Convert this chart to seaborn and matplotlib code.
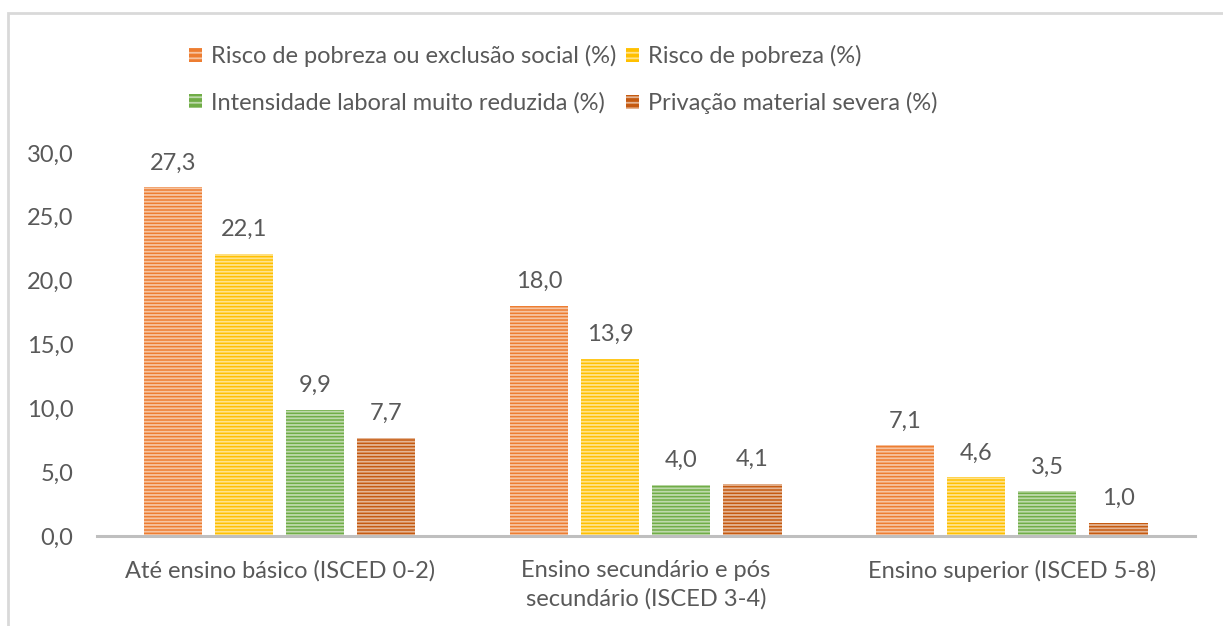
import pandas as pd
import matplotlib.pyplot as plt
import seaborn as sns
from matplotlib.patches import Rectangle, Patch

# Data
categories = ["Até ensino básico (ISCED 0-2)",
              "Ensino secundário e pós\nsecundário (ISCED 3-4)",
              "Ensino superior (ISCED 5-8)"]
series = ["Risco de pobreza ou exclusão social (%)",
          "Risco de pobreza (%)",
          "Intensidade laboral muito reduzida (%)",
          "Privação material severa (%)"]
risco_exclusao = [27.3, 18.0, 7.1]
risco_pobreza = [22.1, 13.9, 4.6]
intensidade = [9.9, 4.0, 3.5]
privacao = [7.7, 4.1, 1.0]
colors = ["#ED7D31", "#FFC000", "#70AD47", "#C55A11"]

df = pd.DataFrame({
    "cat": categories * 4,
    "serie": [s for s in series for _ in categories],
    "val": risco_exclusao + risco_pobreza + intensidade + privacao,
})

sns.set_theme(style="white")
plt.rcParams["font.family"] = ["Lato", "DejaVu Sans"]
plt.rcParams["hatch.linewidth"] = 1.3
text_col = "#595959"
fs = 17
stripe = (1, 1, 1, 0.55)

fig = plt.figure(figsize=(12.23, 6.26), dpi=100)
ax = fig.add_axes([0.0793, 0.1438, 0.8978, 0.6118])

sns.barplot(data=df, x="cat", y="val", hue="serie", palette=colors,
            width=0.776, gap=0.183, legend=False, ax=ax, saturation=1)

for p in ax.patches:
    p.set_hatch("-----")
    p.set_edgecolor(stripe)
    p.set_linewidth(0)

for cont in ax.containers:
    ax.bar_label(cont, labels=[f"{v:.1f}".replace(".", ",") for v in cont.datavalues],
                 padding=10, fontsize=fs, color=text_col)

ax.set_xlim(-0.5, 2.5)
ax.set_ylim(0, 30)
ax.set_yticks(range(0, 31, 5))
ax.set_yticklabels([f"{v},0" for v in range(0, 31, 5)])
ax.set_xlabel("")
ax.set_ylabel("")
ax.tick_params(axis="y", length=0, pad=17, labelsize=fs, labelcolor=text_col)
ax.tick_params(axis="x", length=0, pad=17, labelsize=fs, labelcolor=text_col)
for lbl in ax.get_xticklabels():
    lbl.set_linespacing(1.45)

for s in ["top", "right", "left"]:
    ax.spines[s].set_visible(False)
ax.spines["bottom"].set_color("#BFBFBF")
ax.spines["bottom"].set_linewidth(2.2)

# legend filled row by row like the original
order = [0, 2, 1, 3]
handles = [Patch(facecolor=colors[i], edgecolor=stripe, hatch="---", linewidth=0) for i in order]
fig.legend(handles, [series[i] for i in order], loc="upper left", bbox_to_anchor=(0.137, 0.962), ncol=2,
           frameon=False, fontsize=fs, labelcolor=text_col, handlelength=0.55,
           handleheight=0.55, handletextpad=0.4, columnspacing=0.4, labelspacing=1.05)

# outer chart frame
fig.add_artist(Rectangle((8 / 1223, -0.1), 1.2, 1 - 13 / 626 + 0.1, transform=fig.transFigure,
                         fill=False, edgecolor="#D9D9D9", linewidth=2))

fig.savefig("out.png", dpi=100)
